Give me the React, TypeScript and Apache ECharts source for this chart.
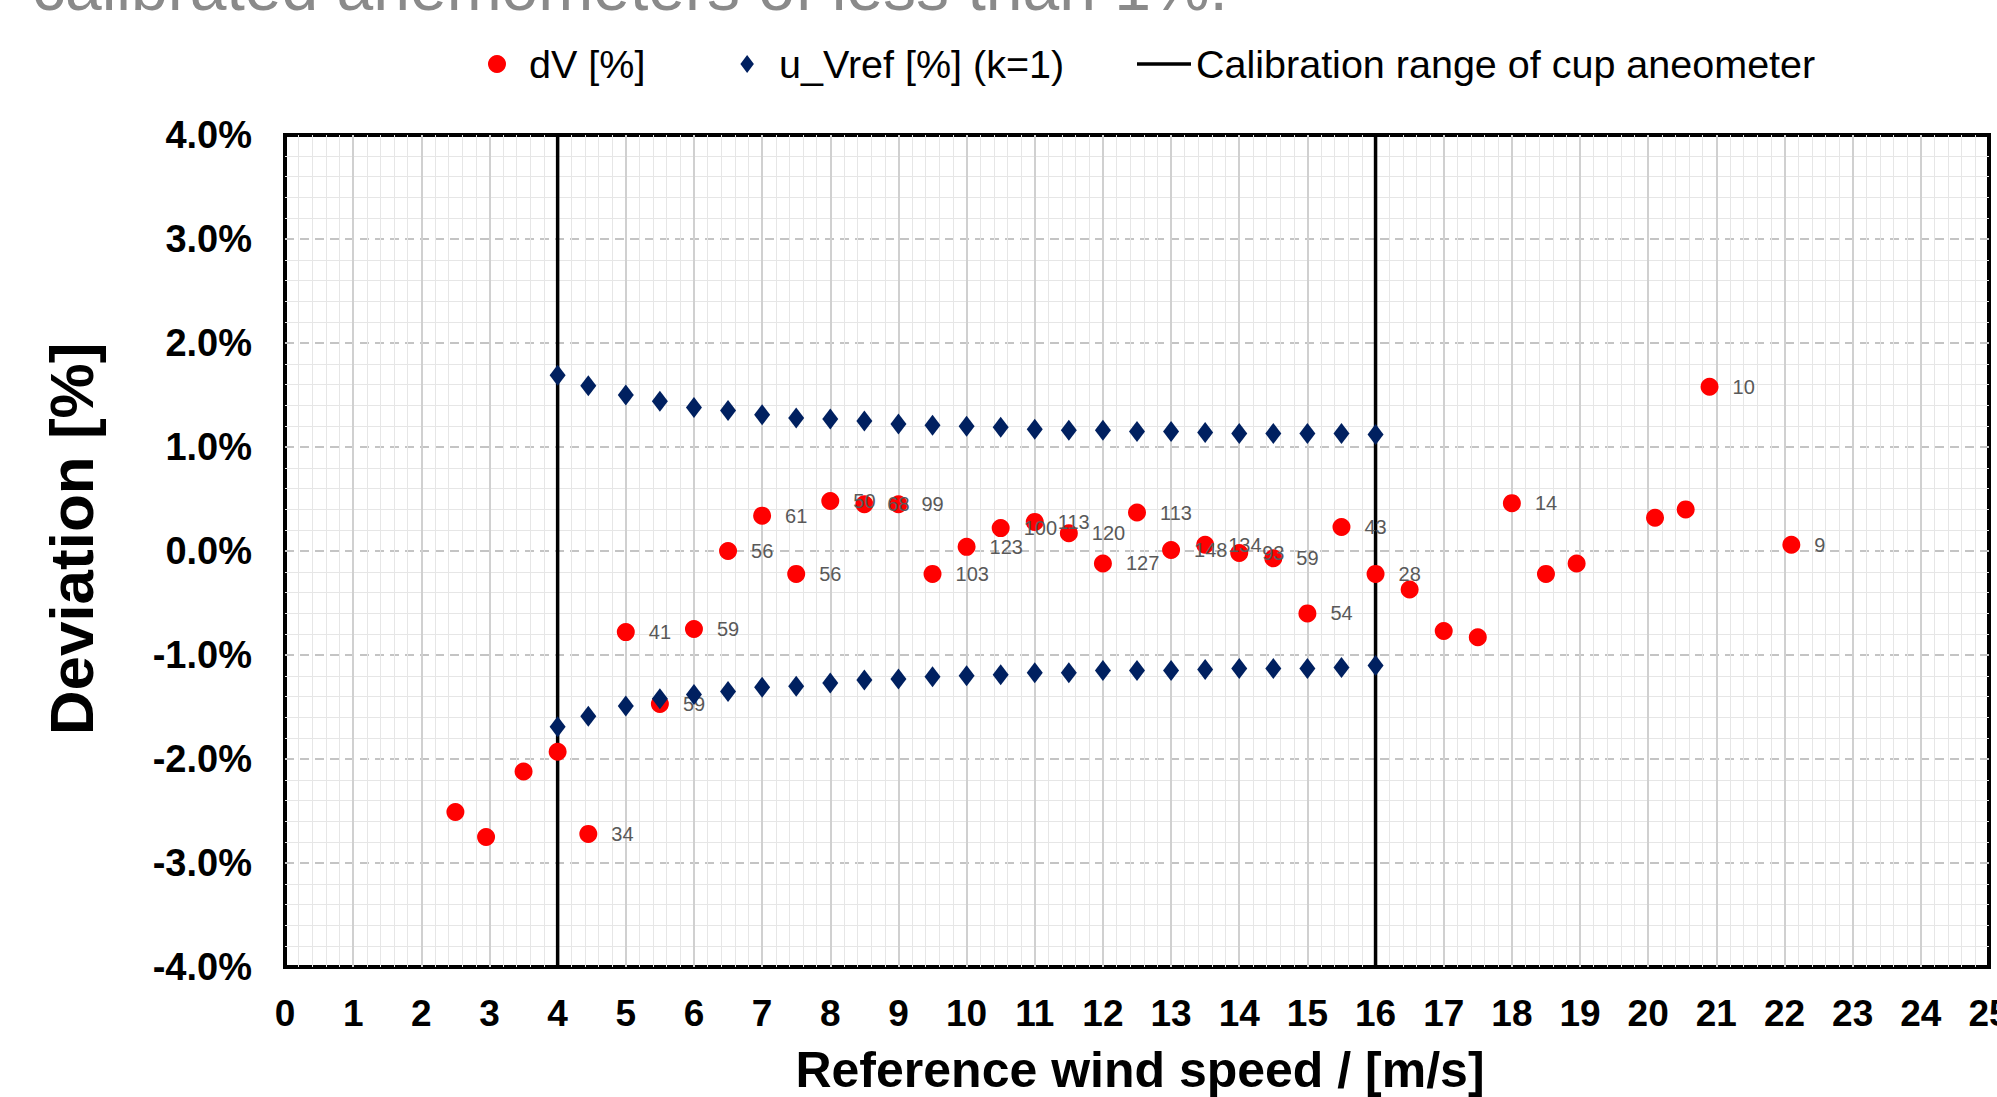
import React, { useEffect, useRef } from "react";
import * as echarts from "echarts";

// ---- data ----
const dVSpeeds = [2.5, 2.95, 3.5, 4.0, 4.45, 5.0, 5.5, 6.0, 6.5, 7.0, 7.5, 8.0, 8.5, 9.0, 9.5, 10.0, 10.5, 11.0, 11.5, 12.0, 12.5, 13.0, 13.5, 14.0, 14.5, 15.0, 15.5, 16.0, 16.5, 17.0, 17.5, 18.0, 18.5, 18.95, 20.1, 20.55, 20.9, 22.1];
const dVValues = [-2.51, -2.75, -2.12, -1.93, -2.72, -0.78, -1.47, -0.75, 0.0, 0.34, -0.22, 0.48, 0.45, 0.45, -0.22, 0.04, 0.22, 0.28, 0.17, -0.12, 0.37, 0.01, 0.06, -0.02, -0.07, -0.6, 0.23, -0.22, -0.37, -0.77, -0.83, 0.46, -0.22, -0.12, 0.32, 0.4, 1.58, 0.06];
const dVCounts = ["", "", "", "", "34", "41", "59", "59", "56", "61", "56", "50", "68", "99", "103", "123", "100", "113", "120", "127", "113", "148", "134", "93", "59", "54", "43", "28", "", "", "", "14", "", "", "", "", "10", "9"];

const uSpeeds = [4.0, 4.45, 5.0, 5.5, 6.0, 6.5, 7.0, 7.5, 8.0, 8.5, 9.0, 9.5, 10.0, 10.5, 11.0, 11.5, 12.0, 12.5, 13.0, 13.5, 14.0, 14.5, 15.0, 15.5, 16.0];
const uUpper = [1.69, 1.59, 1.5, 1.44, 1.38, 1.35, 1.31, 1.28, 1.27, 1.25, 1.22, 1.21, 1.2, 1.19, 1.17, 1.16, 1.16, 1.15, 1.15, 1.14, 1.13, 1.13, 1.13, 1.13, 1.12];
const uLower = [-1.69, -1.59, -1.49, -1.42, -1.38, -1.35, -1.31, -1.3, -1.27, -1.24, -1.23, -1.21, -1.2, -1.19, -1.17, -1.17, -1.15, -1.15, -1.15, -1.14, -1.13, -1.13, -1.13, -1.12, -1.1];

const calibrationSpeeds = [4, 16];
const yRange = [-4, 4];
const xRange = [0, 25];

const seriesNames = ["dV [%]", "u_Vref [%] (k=1)", "Calibration range of cup aneometer"];
const headerText = "calibrated anemometers of less than 1%.";
const xTitle = "Reference wind speed / [m/s]";
const yTitle = "Deviation [%]";

const FONT = "'Liberation Sans', Arial, Helvetica, sans-serif";

export default function App() {
  const ref = useRef<HTMLDivElement>(null);

  useEffect(() => {
    if (!ref.current) return;
    const chart = echarts.init(ref.current, undefined, { renderer: "svg" });

    const calibSeries = calibrationSpeeds.map((s) => ({
      name: seriesNames[2],
      type: "line",
      data: [
        [s, yRange[0]],
        [s, yRange[1]],
      ],
      symbol: "none",
      showSymbol: false,
      lineStyle: { color: "#000000", width: 3.5 },
      itemStyle: { color: "#000000" },
      z: 3,
      silent: true,
    }));

    const legendBase = {
      top: 44,
      padding: 0,
      itemWidth: 54,
      itemHeight: 18,
      symbolKeepAspect: true,
      textStyle: { fontSize: 39.5, color: "#000000", fontFamily: FONT },
    };

    const option: any = {
      animation: false,
      backgroundColor: "#ffffff",
      textStyle: { fontFamily: FONT },
      grid: {
        left: 285,
        right: 8,
        top: 135,
        bottom: 130,
        outerBoundsMode: "none",
        containLabel: false,
        show: true,
        borderColor: "#000000",
        borderWidth: 4,
      },
      legend: [
        {
          ...legendBase,
          data: [
            { name: seriesNames[0], icon: "circle" },
            { name: seriesNames[1], icon: "path://M6 0L12 8L6 16L0 8Z" },
          ],
          left: 488,
          itemGap: 95,
        },
        {
          ...legendBase,
          data: [{ name: seriesNames[2], icon: "path://M0 0H54V3.5H0Z" }],
          left: 1137,
        },
      ],
      xAxis: {
        type: "value",
        min: xRange[0],
        max: xRange[1],
        interval: 1,
        axisLine: { show: false },
        axisTick: { show: false },
        minorTick: { show: false, splitNumber: 5 },
        showMaxLabel: true,
        axisLabel: {
          fontSize: 37,
          fontWeight: "bold",
          color: "#000000",
          margin: 28,
          fontFamily: FONT,
        },
        splitLine: { show: true, showMinLine: false, showMaxLine: false, lineStyle: { color: "#d0d0d0", width: 2 } },
        minorSplitLine: { show: true, lineStyle: { color: "#e6e6e6", width: 1 } },
      },
      yAxis: {
        type: "value",
        min: yRange[0],
        max: yRange[1],
        interval: 1,
        axisLine: { show: false },
        axisTick: { show: false },
        minorTick: { show: false, splitNumber: 5 },
        axisLabel: {
          fontSize: 38,
          fontWeight: "bold",
          color: "#000000",
          margin: 33,
          fontFamily: FONT,
          formatter: (v: number) => `${v.toFixed(1)}%`,
        },
        splitLine: { show: true, showMinLine: false, showMaxLine: false, lineStyle: { color: "#c4c4c4", width: 2, type: [9, 6] } },
        minorSplitLine: { show: true, lineStyle: { color: "#e6e6e6", width: 1 } },
      },
      series: [
        {
          name: seriesNames[0],
          type: "scatter",
          data: dVSpeeds.map((s, i) => [s, dVValues[i]]),
          symbol: "circle",
          symbolSize: 18,
          itemStyle: { color: "#ff0000", opacity: 1 },
          z: 4,
          label: {
            show: true,
            position: "right",
            distance: 14,
            fontSize: 20,
            color: "#595959",
            fontFamily: FONT,
            formatter: (p: any) => dVCounts[p.dataIndex] || "",
          },
        },
        {
          name: seriesNames[1],
          type: "scatter",
          data: uSpeeds.map((s, i) => [s, uUpper[i]]),
          symbol: "diamond",
          symbolSize: [16, 21],
          itemStyle: { color: "#002060", opacity: 1 },
          z: 5,
        },
        {
          name: seriesNames[1],
          type: "scatter",
          data: uSpeeds.map((s, i) => [s, uLower[i]]),
          symbol: "diamond",
          symbolSize: [16, 21],
          itemStyle: { color: "#002060", opacity: 1 },
          z: 5,
        },
        ...calibSeries,
      ],
      graphic: [
        {
          type: "text",
          x: 32,
          y: -13,
          silent: true,
          style: {
            text: headerText,
            fontSize: 66,
            fill: "#8a8a8a",
            fontFamily: FONT,
            align: "left",
            verticalAlign: "middle",
          },
        },
        {
          type: "text",
          x: 1140,
          y: 1070,
          silent: true,
          style: {
            text: xTitle,
            fontSize: 50,
            fontWeight: "bold",
            fill: "#000000",
            fontFamily: FONT,
            align: "center",
            verticalAlign: "middle",
          },
        },
        {
          type: "text",
          x: 71,
          y: 539,
          rotation: Math.PI / 2,
          silent: true,
          style: {
            text: yTitle,
            fontSize: 62,
            fontWeight: "bold",
            fill: "#000000",
            fontFamily: FONT,
            align: "center",
            verticalAlign: "middle",
          },
        },
      ],
    };

    chart.setOption(option);
    return () => {
      chart.dispose();
    };
  }, []);

  return (
    <div
      ref={ref}
      style={{ position: "fixed", left: 0, top: 0, width: 1997, height: 1097, background: "#ffffff" }}
    />
  );
}
